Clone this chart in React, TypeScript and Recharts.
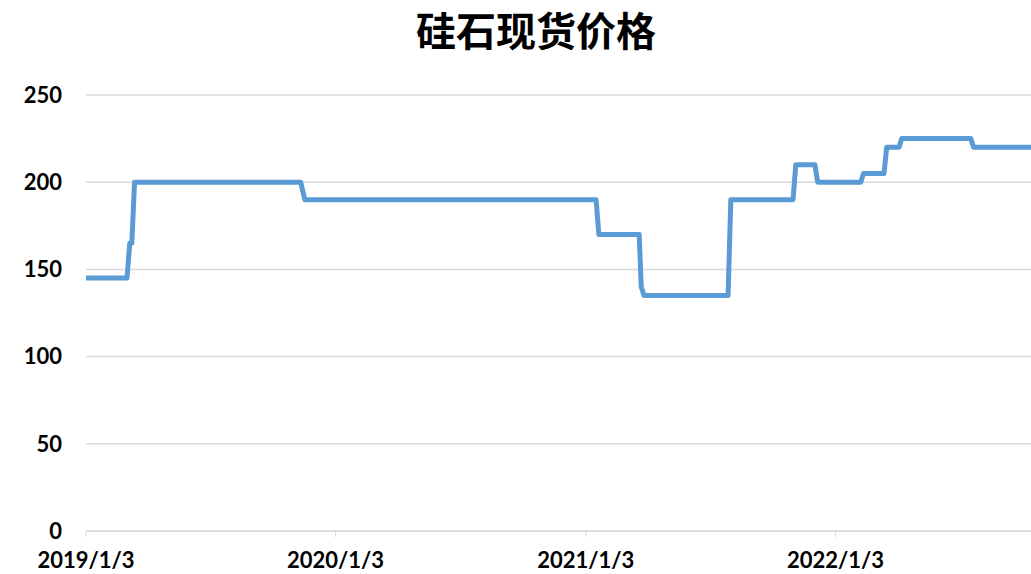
import { CartesianGrid, Line, LineChart, XAxis, YAxis } from "recharts";

// change points of the weekly price series (yuan/ton)
const dates = [
  "2019/1/3", "2019/3/4", "2019/3/8", "2019/3/11", "2019/3/15",
  "2019/11/13", "2019/11/19", "2021/1/18", "2021/1/22", "2021/3/22",
  "2021/3/25", "2021/3/29", "2021/7/30", "2021/8/3", "2021/11/2",
  "2021/11/6", "2021/12/4", "2021/12/8", "2022/2/9", "2022/2/13",
  "2022/3/15", "2022/3/19", "2022/4/6", "2022/4/10", "2022/7/20",
  "2022/7/24", "2022/10/16",
];
const prices = [
  145, 145, 165, 165, 200,
  200, 190, 190, 170, 170,
  140, 135, 135, 190, 190,
  210, 210, 200, 200, 205,
  205, 220, 220, 225, 225,
  220, 220,
];
const xTickLabels = ["2019/1/3", "2020/1/3", "2021/1/3", "2022/1/3"];
const yTicks = [0, 50, 100, 150, 200, 250];

const parseDate = (s: string) => {
  const [y, m, d] = s.split("/").map(Number);
  return Date.UTC(y, m - 1, d);
};
const fmtDate = (t: number) => {
  const d = new Date(t);
  return `${d.getUTCFullYear()}/${d.getUTCMonth() + 1}/${d.getUTCDate()}`;
};

const data = dates.map((s, i) => ({ t: parseDate(s), price: prices[i] }));

const tickFont = {
  fontFamily: "Lato, 'Liberation Sans', sans-serif",
  fontSize: 22,
  fontWeight: 700,
  fill: "#000",
};

const App = () => {
  return (
    <div
      style={{
        position: "fixed",
        left: 0,
        top: 0,
        width: 1031,
        height: 574,
        overflow: "hidden",
        background: "#fff",
      }}
    >
      <div
        style={{
          position: "absolute",
          left: 0,
          width: 1072,
          top: 6,
          textAlign: "center",
          fontFamily: "'Noto Sans CJK SC', sans-serif",
          fontWeight: 700,
          fontSize: 40,
          lineHeight: "46px",
          color: "#000",
        }}
      >
        硅石现货价格
      </div>
      <LineChart
        width={1031}
        height={574}
        data={data}
        margin={{ top: 95, right: 0, left: 0, bottom: 0 }}
      >
        <CartesianGrid vertical={false} stroke="#d9d9d9" strokeWidth={1.5} />
        <XAxis
          dataKey="t"
          type="number"
          domain={["dataMin", "dataMax"]}
          ticks={xTickLabels.map(parseDate)}
          tickFormatter={fmtDate}
          height={43}
          stroke="#d9d9d9"
          tickSize={6}
          tickMargin={15}
          tick={tickFont}
        />
        <YAxis
          domain={[0, 250]}
          ticks={yTicks}
          width={86}
          axisLine={false}
          tickLine={false}
          tickSize={0}
          tickMargin={24}
          tick={tickFont}
        />
        <Line
          type="linear"
          dataKey="price"
          stroke="#5b9bd5"
          strokeWidth={5}
          strokeLinejoin="round"
          dot={false}
          isAnimationActive={false}
        />
      </LineChart>
    </div>
  );
};

export default App;
